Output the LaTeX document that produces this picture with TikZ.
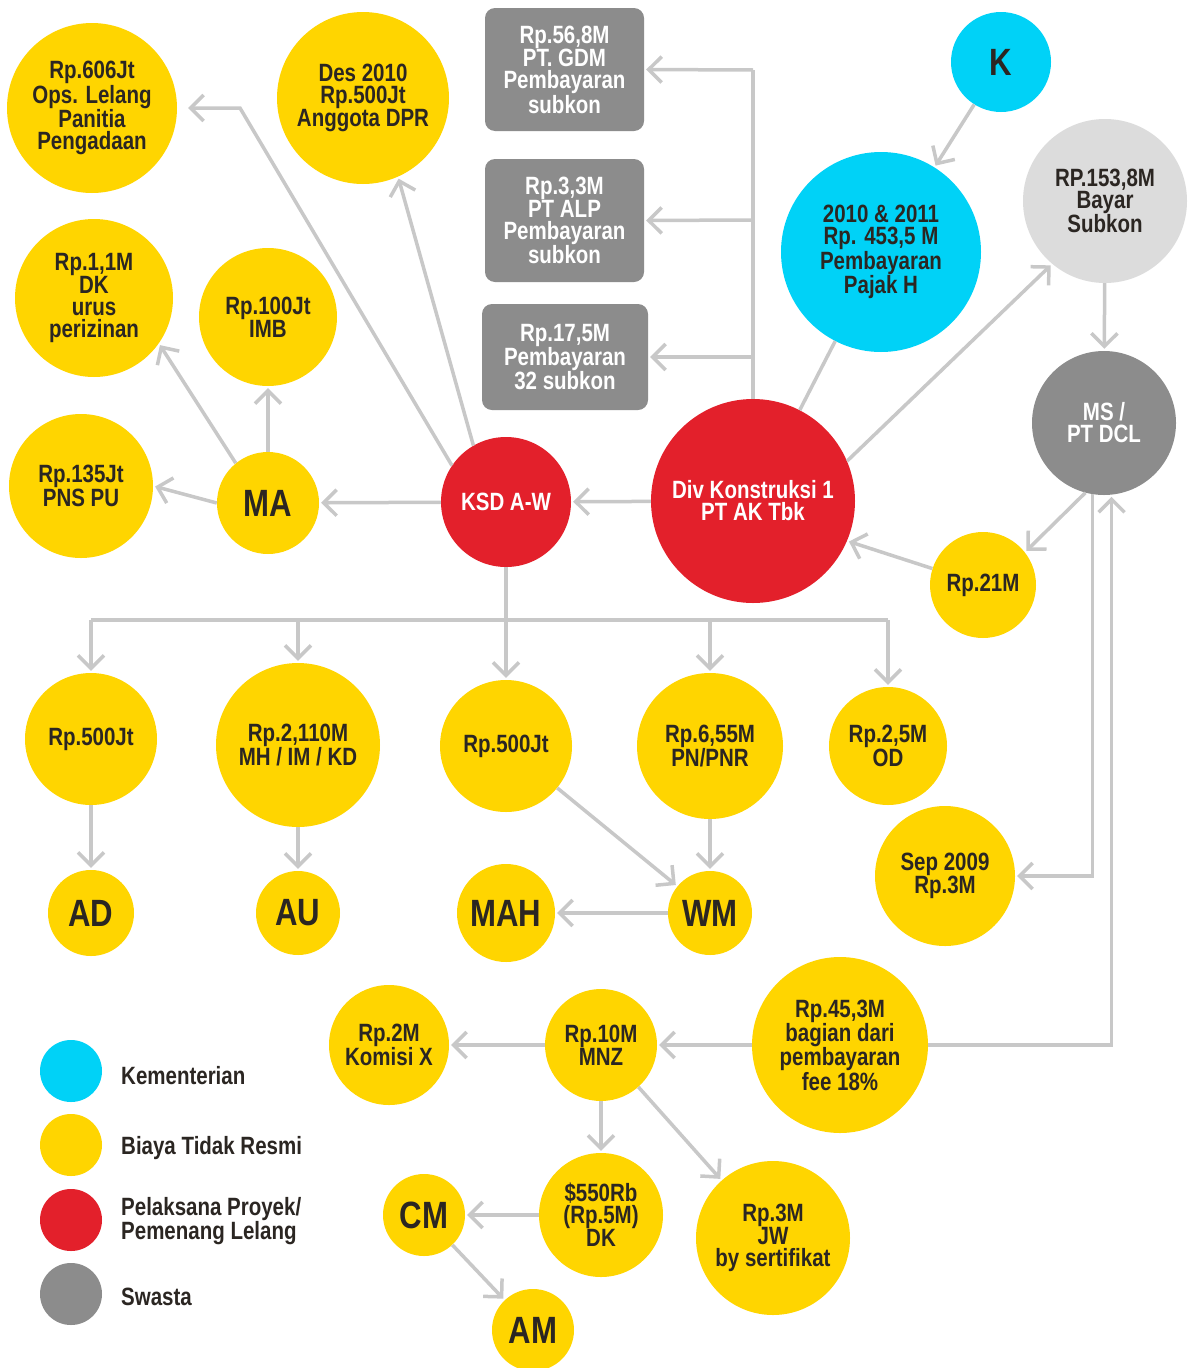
\documentclass[tikz,border=0pt]{standalone}
\usepackage{fontspec}
\newfontfamily\cf[FakeStretch=0.82]{Liberation Sans}
\usetikzlibrary{arrows.meta}
\definecolor{ylw}{HTML}{FFD500}
\definecolor{rd}{HTML}{E3202B}
\definecolor{cy}{HTML}{00D2F7}
\definecolor{gr}{HTML}{8C8C8C}
\definecolor{lg}{HTML}{DCDCDC}
\definecolor{lin}{HTML}{C8C8C8}
\definecolor{txt}{HTML}{2B2622}
\begin{document}
\begin{tikzpicture}[x=1pt,y=-1pt,
  bub/.style={circle,inner sep=0pt,align=center,text=txt,
    font=\cf\bfseries\fontsize{25}{22}\selectfont},
  yb/.style={bub,fill=ylw,minimum size=#1},
  rb/.style={bub,fill=rd,text=white,minimum size=#1},
  cb/.style={bub,fill=cy,minimum size=#1},
  lgb/.style={bub,fill=lg,minimum size=#1},
  gb/.style={bub,fill=gr,text=white,minimum size=#1},
  big/.style={font=\cf\bfseries\fontsize{38}{38}\selectfont},
  gbox/.style={rectangle,rounded corners=10pt,fill=gr,text=white,inner sep=0pt,
    align=center,font=\cf\bfseries\fontsize{25}{22}\selectfont},
  ln/.style={draw=lin,line width=3.5pt},
  arr/.style={ln,-{Straight Barb[length=13pt,width=26pt]},shorten >=2pt},
  legc/.style={circle,inner sep=0pt,minimum size=62pt,fill=#1},
  legt/.style={anchor=west,align=left,text=txt,inner sep=0pt,
    font=\cf\bfseries\fontsize{25}{22}\selectfont}
]
\useasboundingbox[fill=white] (0,0) rectangle (1188,1368);

% nodes
\node[yb=170] (n606) at (92,108) {Rp.606Jt\\Ops. Lelang\\Panitia\\Pengadaan};
\node[yb=172] (des) at (363,98) {Des 2010\\Rp.500Jt\\Anggota DPR};
\node[yb=158] (n11) at (94,298) {Rp.1,1M\\DK\\urus\\perizinan};
\node[yb=138] (imb) at (268,317) {Rp.100Jt\\IMB};
\node[yb=144] (n135) at (81,486) {Rp.135Jt\\PNS PU};
\node[yb=102,big] (ma) at (268,503) {MA};
\node[rb=130] (ksd) at (506,502) {KSD A-W};
\node[rb=204] (div) at (753,501) {Div Konstruksi 1\\PT AK Tbk};

\node[gbox,minimum width=159pt,minimum height=123pt] (box1) at (564.5,69.5) {Rp.56,8M\\PT. GDM\\Pembayaran\\subkon};
\node[gbox,minimum width=159pt,minimum height=123pt] (box2) at (564.5,220.5) {Rp.3,3M\\PT ALP\\Pembayaran\\subkon};
\node[gbox,minimum width=166pt,minimum height=106pt] (box3) at (565,357) {Rp.17,5M\\Pembayaran\\32 subkon};

\node[cb=100,big] (k) at (1001,62) {K};
\node[cb=200] (n2010) at (881,252) {2010 \& 2011\\Rp. 453,5 M\\Pembayaran\\Pajak H};
\node[lgb=164] (n153) at (1105,201) {RP.153,8M\\Bayar\\Subkon};
\node[gb=144] (ms) at (1104,423) {MS /\\PT DCL};
\node[yb=106] (n21) at (983,585) {Rp.21M};

\node[yb=132] (r1) at (91,739) {Rp.500Jt};
\node[yb=164] (r2) at (298,745) {Rp.2,110M\\MH / IM / KD};
\node[yb=132] (r3) at (506,746) {Rp.500Jt};
\node[yb=146] (r4) at (710,746) {Rp.6,55M\\PN/PNR};
\node[yb=118] (r5) at (888,746) {Rp.2,5M\\OD};
\node[yb=140] (sep) at (945,876) {Sep 2009\\Rp.3M};

\node[yb=86,big] (ad) at (91,913) {AD};
\node[yb=84,big] (au) at (298,913) {AU};
\node[yb=98,big] (mah) at (506,913) {MAH};
\node[yb=84,big] (wm) at (710,913) {WM};

\node[yb=176] (n453) at (840,1045) {Rp.45,3M\\bagian dari\\pembayaran\\fee 18\%};
\node[yb=112] (mnz) at (601,1045) {Rp.10M\\MNZ};
\node[yb=120] (kx) at (389,1045) {Rp.2M\\Komisi X};
\node[yb=124] (n550) at (601,1215) {\$550Rb\\(Rp.5M)\\DK};
\node[yb=154] (jw) at (773,1238) {Rp.3M\\JW\\by sertifikat};
\node[yb=82,big] (cm) at (424,1215) {CM};
\node[yb=82,big] (am) at (533,1330) {AM};

% legend
\node[legc=cy] (leg1) at (71,1071) {};
\node[legc=ylw] (leg2) at (71,1145) {};
\node[legc=rd] (leg3) at (71,1220) {};
\node[legc=gr] (leg4) at (71,1294) {};
\node[legt] (lt1) at (121,1076) {Kementerian};
\node[legt] (lt2) at (121,1148) {Biaya Tidak Resmi};
\node[legt] (lt3) at (121,1221) {Pelaksana Proyek/\\Pemenang Lelang};
\node[legt] (lt4) at (121,1297) {Swasta};

% coordinates
\coordinate (e606) at (240,108);
\coordinate (j1) at (753,70);
\coordinate (j2) at (753,220);
\coordinate (j3) at (753,357);
\coordinate (h1) at (91,620);
\coordinate (h2) at (298,620);
\coordinate (h3) at (506,620);
\coordinate (h4) at (710,620);
\coordinate (h5) at (888,620);

% connectors
\draw[arr] (ksd.146) -- (e606) -- ([xshift=9pt]n606.east);
\draw[arr] (ksd.120) -- (des.-66);
\draw[arr] (ma.129) -- (n11.-35);
\draw[arr] (ma) -- (imb);
\draw[arr] (ma.180) -- (n135.0);
\draw[arr] (ksd) -- (ma);
\draw[arr] (div) -- (ksd);

\draw[ln] (div.north) -- (j1);
\draw[arr] (j1) -- (box1.east);
\draw[arr] (j2) -- (box2.east);
\draw[arr] (j3) -- (box3.east);

\draw[ln] (div) -- (n2010);
\draw[arr] (k) -- (n2010);
\draw[arr] (div.23) -- (n153.230);
\draw[arr] (n153) -- (ms);
\draw[arr] (ms.255) -- (n21.38);
\draw[arr] (n21.162) -- (div.-23);

\draw[ln] (ksd.south) -- (h3);
\draw[ln] (h1) -- (h5);
\draw[arr] (h1) -- (r1.north);
\draw[arr] (h2) -- (r2.north);
\draw[arr] (h3) -- (r3.north);
\draw[arr] (h4) -- (r4.north);
\draw[arr] (h5) -- (r5.north);

\draw[arr] (r1) -- (ad);
\draw[arr] (r2) -- (au);
\draw[arr] (r3) -- (wm);
\draw[arr] (r4) -- (wm);
\draw[arr] (wm) -- (mah);

\draw[arr] (ms.261) |- (sep.east);
\draw[arr] (n453.east) -| (ms.276);

\draw[arr] (n453) -- (mnz);
\draw[arr] (mnz) -- (kx);
\draw[arr] (mnz) -- (n550);
\draw[arr] (mnz) -- (jw);
\draw[arr] (n550) -- (cm);
\draw[arr] (cm) -- (am);
\end{tikzpicture}
\end{document}
